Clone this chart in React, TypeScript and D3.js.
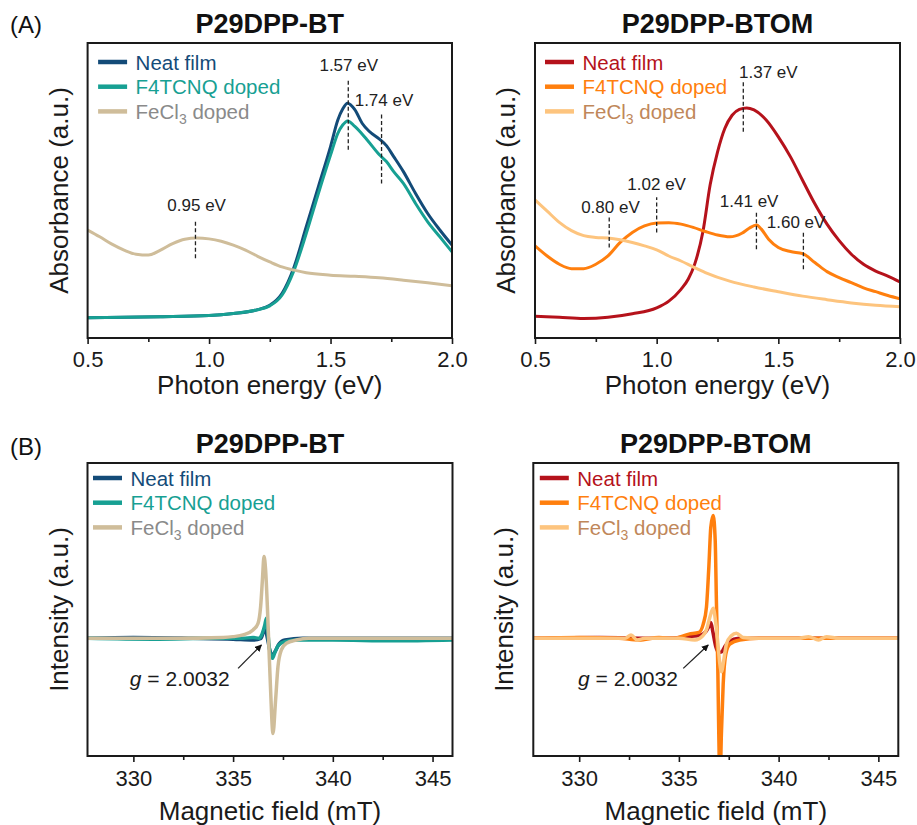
import React, { useRef, useEffect } from "react";
import * as d3 from "d3";

// ---- UV-vis-NIR absorbance (normalised a.u.) ----
const btNeatAbs = [[0.5,0.069],[0.8,0.072],[1.0,0.076],[1.1,0.083],[1.2,0.096],[1.25,0.111],[1.3,0.151],[1.35,0.241],[1.4,0.377],[1.45,0.513],[1.5,0.649],[1.53,0.739],[1.55,0.776],[1.57,0.796],[1.6,0.774],[1.63,0.728],[1.66,0.70],[1.7,0.675],[1.73,0.652],[1.76,0.615],[1.8,0.564],[1.85,0.49],[1.9,0.422],[1.95,0.366],[2.0,0.315]];
const btF4Abs = [[0.5,0.069],[0.8,0.072],[1.0,0.076],[1.1,0.083],[1.2,0.096],[1.25,0.109],[1.3,0.145],[1.35,0.23],[1.4,0.354],[1.45,0.49],[1.5,0.62],[1.53,0.694],[1.55,0.722],[1.57,0.736],[1.6,0.717],[1.65,0.672],[1.7,0.622],[1.73,0.598],[1.76,0.564],[1.8,0.524],[1.85,0.456],[1.9,0.394],[1.95,0.343],[2.0,0.292]];
const btFeAbs = [[0.5,0.366],[0.55,0.343],[0.6,0.318],[0.65,0.298],[0.7,0.284],[0.75,0.281],[0.8,0.298],[0.85,0.32],[0.9,0.335],[0.95,0.339],[1.0,0.336],[1.05,0.328],[1.1,0.315],[1.15,0.298],[1.2,0.277],[1.25,0.258],[1.3,0.241],[1.35,0.23],[1.4,0.221],[1.5,0.213],[1.6,0.209],[1.7,0.204],[1.8,0.196],[1.9,0.187],[2.0,0.177]];

const btomNeatAbs = [[0.5,0.074],[0.6,0.07],[0.7,0.066],[0.8,0.07],[0.9,0.082],[1.0,0.102],[1.05,0.125],[1.1,0.165],[1.13,0.2],[1.157,0.252],[1.19,0.36],[1.22,0.52],[1.25,0.63],[1.28,0.71],[1.31,0.755],[1.34,0.775],[1.37,0.78],[1.4,0.773],[1.45,0.739],[1.5,0.682],[1.55,0.614],[1.6,0.534],[1.65,0.455],[1.7,0.386],[1.75,0.33],[1.8,0.284],[1.85,0.25],[1.9,0.227],[1.95,0.21],[2.0,0.19]];
const btomF4Abs = [[0.5,0.3125],[0.55,0.278],[0.6,0.25],[0.65,0.235],[0.7,0.235],[0.75,0.25],[0.8,0.278],[0.85,0.324],[0.9,0.358],[0.95,0.38],[1.0,0.39],[1.05,0.391],[1.1,0.386],[1.15,0.375],[1.2,0.361],[1.25,0.349],[1.3,0.343],[1.35,0.355],[1.38,0.372],[1.41,0.383],[1.43,0.369],[1.46,0.335],[1.5,0.307],[1.55,0.293],[1.6,0.286],[1.65,0.256],[1.7,0.225],[1.75,0.205],[1.8,0.1875],[1.85,0.17],[1.9,0.157],[1.95,0.144],[2.0,0.133]];
const btomFeAbs = [[0.5,0.468],[0.55,0.43],[0.6,0.392],[0.65,0.364],[0.7,0.347],[0.75,0.341],[0.8,0.339],[0.85,0.333],[0.9,0.324],[0.95,0.3125],[1.0,0.299],[1.05,0.278],[1.1,0.261],[1.15,0.241],[1.2,0.222],[1.3,0.193],[1.4,0.173],[1.5,0.157],[1.6,0.142],[1.7,0.13],[1.8,0.119],[1.9,0.111],[2.0,0.106]];

// ---- EPR spectra (a.u.) ----
const btNeatEpr = [[327.7,0],[330,0.01],[333,0],[335,-0.01],[336,-0.02],[336.4,0],[336.6,0.12],[336.72,0],[336.85,-0.15],[336.97,-0.21],[337.1,-0.16],[337.3,-0.07],[337.6,-0.02],[338.5,0],[342,0],[346,0]];
const btF4Epr = [[327.7,0],[331,-0.01],[334,0],[335.5,0],[336,0.01],[336.3,0],[336.45,0.05],[336.58,0.15],[336.67,0.24],[336.74,0.08],[336.83,-0.14],[336.97,-0.24],[337.08,-0.18],[337.25,-0.09],[337.58,-0.04],[338.2,-0.02],[340,-0.02],[343,-0.03],[346,-0.02]];
const btFeEpr = [[327.7,0],[332,0],[334.5,0.01],[335,0.02],[335.5,0.04],[336,0.1],[336.25,0.18],[336.38,0.38],[336.47,0.7],[336.55,0.98],[336.63,0.82],[336.72,0.37],[336.8,-0.14],[336.88,-0.62],[337.0,-1.14],[337.13,-0.74],[337.25,-0.34],[337.42,-0.14],[337.67,-0.06],[338.17,-0.02],[338.8,0],[346,0]];

const btomNeatEpr = [[327.7,0],[331,0.01],[334,0],[335.5,0.02],[336.1,0.04],[336.35,0.08],[336.5,0.14],[336.6,0.19],[336.7,0.08],[336.85,-0.1],[337.0,-0.17],[337.15,-0.16],[337.3,-0.1],[337.5,-0.04],[338,0],[346,0]];
const btomF4Epr = [[327.7,0],[330,0.01],[332,0],[333,-0.02],[334,0.01],[334.7,0],[335.5,0.05],[336,0.07],[336.22,0.17],[336.38,0.37],[336.5,0.85],[336.6,1.33],[336.72,1.47],[336.82,1.17],[336.88,0.45],[336.95,-0.35],[337.0,-1.15],[337.06,-1.75],[337.13,-1.15],[337.22,-0.55],[337.35,-0.19],[337.55,-0.07],[338.05,-0.02],[339,0],[346,0]];
const btomFeEpr = [[327.7,0],[330,0],[332.3,0],[332.6,0.04],[332.9,-0.02],[333.3,0],[335,0],[335.8,-0.02],[336.2,0.03],[336.38,0.1],[336.55,0.25],[336.72,0.36],[336.85,0.18],[336.97,-0.1],[337.05,-0.3],[337.13,-0.4],[337.25,-0.26],[337.38,-0.07],[337.63,0.03],[337.88,0.06],[338.22,0.01],[339,0],[341,0],[341.5,0.02],[342,-0.02],[342.4,0.02],[343,0],[346,0]];

// peak markers: label, x of dashed line, line y range, label centre
const btPeaks = [
  { label: "0.95 eV", x: 0.944, y0: 0.27, y1: 0.40, lx: 0.949, ly: 0.45 },
  { label: "1.57 eV", x: 1.573, y0: 0.638, y1: 0.875, lx: 1.575, ly: 0.926 },
  { label: "1.74 eV", x: 1.71, y0: 0.524, y1: 0.76, lx: 1.72, ly: 0.807 },
];
const btomPeaks = [
  { label: "0.80 eV", x: 0.805, y0: 0.307, y1: 0.409, lx: 0.81, ly: 0.443 },
  { label: "1.02 eV", x: 1.0, y0: 0.358, y1: 0.477, lx: 1.0, ly: 0.523 },
  { label: "1.37 eV", x: 1.356, y0: 0.699, y1: 0.869, lx: 1.459, ly: 0.903 },
  { label: "1.41 eV", x: 1.41, y0: 0.301, y1: 0.432, lx: 1.38, ly: 0.466 },
  { label: "1.60 eV", x: 1.603, y0: 0.233, y1: 0.364, lx: 1.573, ly: 0.394 },
];

const legendNames = ["Neat film", "F4TCNQ doped", "FeCl3 doped"];
const btColors = ["#134b78", "#17a093", "#cfbd9a"];
const btTextColors = ["#134b78", "#17a093", "#8a8a8a"];
const btomColors = ["#b5121b", "#ff7f0e", "#fdc47e"];
const btomTextColors = ["#b5121b", "#ff7f0e", "#c0875a"];

const absTicks = [0.5, 1.0, 1.5, 2.0];
const absMinor = [0.75, 1.25, 1.75];
const eprTicks = [330, 335, 340, 345];
const eprMinor = [332.5, 337.5, 342.5];

const FONT = "'Liberation Sans', Arial, sans-serif";

function drawPanel(svg, cfg) {
  const x = d3.scaleLinear().domain(cfg.xDomain).range([cfg.left, cfg.right]);
  const y = d3.scaleLinear().domain(cfg.yDomain).range([cfg.bottom, cfg.top]);
  const g = svg.append("g");

  g.append("clipPath").attr("id", cfg.id)
    .append("rect")
    .attr("x", cfg.left).attr("y", cfg.top)
    .attr("width", cfg.right - cfg.left).attr("height", cfg.bottom - cfg.top);

  const line = d3.line().x(d => x(d[0])).y(d => y(d[1])).curve(d3.curveMonotoneX);

  const plot = g.append("g").attr("clip-path", `url(#${cfg.id})`);
  cfg.series.forEach((s, i) => {
    plot.append("path")
      .attr("d", line(s))
      .attr("fill", "none")
      .attr("stroke", cfg.colors[i])
      .attr("stroke-width", cfg.lineWidth)
      .attr("stroke-linejoin", "round");
  });

  // frame
  g.append("rect")
    .attr("x", cfg.left).attr("y", cfg.top)
    .attr("width", cfg.right - cfg.left).attr("height", cfg.bottom - cfg.top)
    .attr("fill", "none").attr("stroke", "#1a1a1a").attr("stroke-width", 2);

  const ax = g.append("g")
    .attr("transform", `translate(0,${cfg.bottom})`)
    .call(d3.axisBottom(x).tickValues(cfg.ticks).tickSize(6).tickPadding(cfg.tickPad).tickFormat(cfg.tickFormat));
  ax.select(".domain").remove();
  ax.selectAll("line").attr("stroke", "#1a1a1a").attr("stroke-width", 1.6);
  ax.selectAll("text").style("font-family", FONT).style("font-size", "22px").attr("fill", "#1a1a1a");

  const minor = g.append("g")
    .attr("transform", `translate(0,${cfg.bottom})`)
    .call(d3.axisBottom(x).tickValues(cfg.minor).tickSize(4).tickFormat(() => ""));
  minor.select(".domain").remove();
  minor.selectAll("line").attr("stroke", "#1a1a1a").attr("stroke-width", 1.6);

  // title
  g.append("text")
    .attr("x", (cfg.left + cfg.right) / 2).attr("y", cfg.top - 10)
    .attr("text-anchor", "middle")
    .style("font-family", FONT).style("font-size", "27px").style("font-weight", "bold")
    .attr("fill", "#111").text(cfg.title);

  // axis labels
  g.append("text")
    .attr("x", (cfg.left + cfg.right) / 2).attr("y", cfg.bottom + cfg.xLabelOff)
    .attr("text-anchor", "middle")
    .style("font-family", FONT).style("font-size", "26px")
    .attr("fill", "#1a1a1a").text(cfg.xLabel);
  g.append("text")
    .attr("transform", `translate(${cfg.left - 20},${(cfg.top + cfg.bottom) / 2}) rotate(-90)`)
    .attr("text-anchor", "middle")
    .style("font-family", FONT).style("font-size", "26px")
    .attr("fill", "#1a1a1a").text(cfg.yLabel);

  // legend
  legendNames.forEach((name, i) => {
    const ly = cfg.top + cfg.legendY + i * 24.7;
    g.append("line")
      .attr("x1", cfg.left + cfg.legendX).attr("x2", cfg.left + cfg.legendX + 29)
      .attr("y1", ly).attr("y2", ly)
      .attr("stroke", cfg.colors[i]).attr("stroke-width", 4.5);
    const t = g.append("text")
      .attr("x", cfg.left + cfg.legendX + 37.5).attr("y", ly + 7.5)
      .style("font-family", FONT).style("font-size", "20.5px")
      .attr("fill", cfg.textColors[i]);
    if (name.startsWith("FeCl3")) {
      t.append("tspan").text("FeCl");
      t.append("tspan").attr("dy", 5).style("font-size", "14px").text("3");
      t.append("tspan").attr("dy", -5).text(" doped");
    } else {
      t.text(name);
    }
  });

  // peak markers
  (cfg.peaks || []).forEach(p => {
    g.append("line")
      .attr("x1", x(p.x)).attr("x2", x(p.x))
      .attr("y1", y(p.y0)).attr("y2", y(p.y1))
      .attr("stroke", "#222").attr("stroke-width", 1.3)
      .attr("stroke-dasharray", "4,2.5");
    g.append("text")
      .attr("x", x(p.lx)).attr("y", y(p.ly) + 6)
      .attr("text-anchor", "middle")
      .style("font-family", FONT).style("font-size", "17px")
      .attr("fill", "#222").text(p.label);
  });

  // g-factor arrow
  if (cfg.arrow) {
    const a = cfg.arrow;
    g.append("line")
      .attr("x1", x(a.tail[0])).attr("y1", y(a.tail[1]))
      .attr("x2", x(a.head[0])).attr("y2", y(a.head[1]))
      .attr("stroke", "#222").attr("stroke-width", 1.3)
      .attr("marker-end", "url(#arrowHead)");
    const t = g.append("text")
      .attr("x", x(a.textX)).attr("y", y(a.textY))
      .attr("text-anchor", "end")
      .style("font-family", FONT).style("font-size", "21px")
      .attr("fill", "#1a1a1a");
    t.append("tspan").style("font-style", "italic").text("g");
    t.append("tspan").text(" = 2.0032");
  }
}

const App = () => {
  const svgRef = useRef(null);

  useEffect(() => {
    const svg = d3.select(svgRef.current);
    svg.selectAll("*").remove();

    svg.append("defs").append("marker")
      .attr("id", "arrowHead")
      .attr("viewBox", "0 0 10 10")
      .attr("refX", 9).attr("refY", 5)
      .attr("markerWidth", 7).attr("markerHeight", 7)
      .attr("markerUnits", "userSpaceOnUse")
      .attr("orient", "auto")
      .append("path").attr("d", "M0,0 L10,5 L0,10 Z").attr("fill", "#111");

    const absBase = {
      xDomain: [0.5, 2.0], yDomain: [0, 1], top: 43, bottom: 338,
      ticks: absTicks, minor: absMinor, tickFormat: d3.format(".1f"), tickPad: 7,
      xLabel: "Photon energy (eV)", yLabel: "Absorbance (a.u.)", xLabelOff: 56,
      legendY: 19, lineWidth: 3,
    };
    const eprBase = {
      xDomain: [327.7, 346], yDomain: [-1.41, 2.1], top: 463, bottom: 756,
      ticks: eprTicks, minor: eprMinor, tickFormat: d3.format("d"), tickPad: 8,
      xLabel: "Magnetic field (mT)", yLabel: "Intensity (a.u.)", xLabelOff: 64,
      legendY: 15, lineWidth: 3.5,
    };

    drawPanel(svg, {
      ...absBase, id: "clipA1", left: 87.6, right: 452, title: "P29DPP-BT",
      series: [btNeatAbs, btF4Abs, btFeAbs], colors: btColors, textColors: btTextColors,
      legendX: 10.5, peaks: btPeaks,
    });
    drawPanel(svg, {
      ...absBase, id: "clipA2", left: 535, right: 900, title: "P29DPP-BTOM",
      series: [btomNeatAbs, btomF4Abs, btomFeAbs], colors: btomColors, textColors: btomTextColors,
      legendX: 10, peaks: btomPeaks,
    });
    drawPanel(svg, {
      ...eprBase, id: "clipB1", left: 87.5, right: 452.5, title: "P29DPP-BT",
      series: [btNeatEpr, btF4Epr, btFeEpr], colors: btColors, textColors: btTextColors,
      legendX: 5.5,
      arrow: { tail: [335.25, -0.36], head: [336.42, -0.08], textX: 334.83, textY: -0.573 },
    });
    drawPanel(svg, {
      ...eprBase, id: "clipB2", left: 533.3, right: 898.3, title: "P29DPP-BTOM",
      series: [btomNeatEpr, btomF4Epr, btomFeEpr], colors: btomColors, textColors: btomTextColors,
      legendX: 6.5,
      arrow: { tail: [335.22, -0.36], head: [336.47, -0.08], textX: 334.95, textY: -0.573 },
    });

    // panel letters
    [["(A)", 33], ["(B)", 455]].forEach(([t, yy]) => {
      svg.append("text")
        .attr("x", 10).attr("y", yy)
        .style("font-family", FONT).style("font-size", "24px")
        .attr("fill", "#111").text(t);
    });
  }, []);

  return (
    <svg
      ref={svgRef}
      width={917}
      height={825}
      style={{ position: "absolute", left: 0, top: 0, background: "#fff" }}
    />
  );
};

export default App;
